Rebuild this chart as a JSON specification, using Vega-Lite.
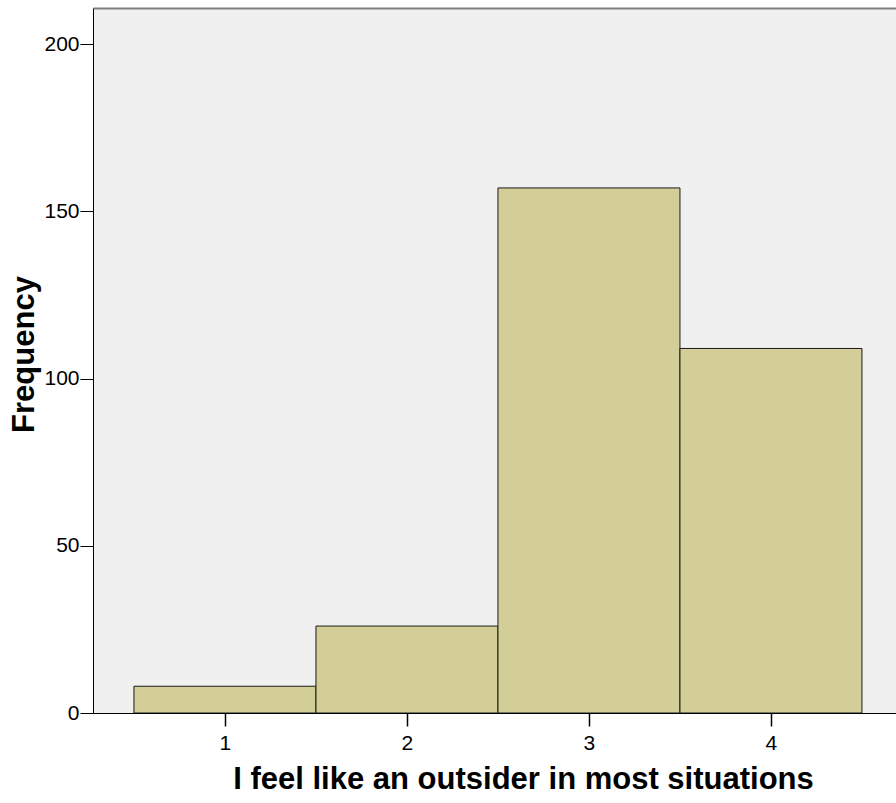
{
  "$schema": "https://vega.github.io/schema/vega-lite/v6.json",
  "width": 803,
  "height": 705,
  "autosize": {"type": "none"},
  "padding": {"left": 93, "top": 8, "right": 0, "bottom": 90},
  "background": "white",
  "config": {
    "view": {"fill": "#F0F0F0", "stroke": null},
    "font": "Liberation Sans",
    "axis": {"grid": false}
  },
  "data": {
    "values": [
      {"response": 1, "bin_start": 0.5, "bin_end": 1.5, "count": 8},
      {"response": 2, "bin_start": 1.5, "bin_end": 2.5, "count": 26},
      {"response": 3, "bin_start": 2.5, "bin_end": 3.5, "count": 157},
      {"response": 4, "bin_start": 3.5, "bin_end": 4.5, "count": 109}
    ]
  },
  "layer": [
    {
      "mark": {"type": "bar", "fill": "#D3CE98", "stroke": "#1a1a1a", "strokeWidth": 1},
      "encoding": {
        "x": {
          "field": "bin_start",
          "type": "quantitative",
          "scale": {"domain": [0.275, 4.687], "nice": false, "zero": false},
          "axis": {
            "orient": "bottom",
            "values": [1, 2, 3, 4],
            "format": "d",
            "ticks": true,
            "tickSize": 13,
            "tickWidth": 1.5,
            "tickColor": "#000000",
            "domainColor": "#000000",
            "labelColor": "#000000",
            "labelFontSize": 21,
            "labelPadding": 6,
            "title": "I feel like an outsider in most situations",
            "titleFontSize": 31,
            "titleFontWeight": "bold",
            "titleColor": "#000000",
            "titleX": 430,
            "titleY": 75,
            "titleBaseline": "alphabetic",
            "titleAlign": "center",
            "zindex": 2
          }
        },
        "x2": {"field": "bin_end"},
        "y": {
          "field": "count",
          "type": "quantitative",
          "scale": {"domain": [0, 210.8], "nice": false},
          "axis": {
            "values": [0, 50, 100, 150, 200],
            "ticks": true,
            "tickSize": 13,
            "tickColor": "#000000",
            "domainColor": "#000000",
            "labelColor": "#000000",
            "labelFontSize": 21,
            "labelPadding": 1,
            "title": "Frequency",
            "titleFontSize": 31,
            "titleFontWeight": "bold",
            "titleColor": "#000000",
            "titleX": -60,
            "titleY": 346,
            "titleBaseline": "alphabetic",
            "titleAlign": "center",
            "titleAngle": 270,
            "zindex": 1
          }
        },
        "y2": {"datum": 0}
      }
    },
    {
      "mark": {"type": "bar", "opacity": 0},
      "encoding": {
        "x": {
          "field": "bin_start",
          "type": "quantitative",
          "axis": {
            "orient": "top",
            "domainColor": "#7f7f7f",
            "domainWidth": 2,
            "ticks": false,
            "labels": false,
            "title": null,
            "zindex": 1
          }
        },
        "x2": {"field": "bin_end"},
        "y": {"field": "count", "type": "quantitative"},
        "y2": {"datum": 0}
      }
    }
  ],
  "resolve": {"axis": {"x": "independent"}}
}
